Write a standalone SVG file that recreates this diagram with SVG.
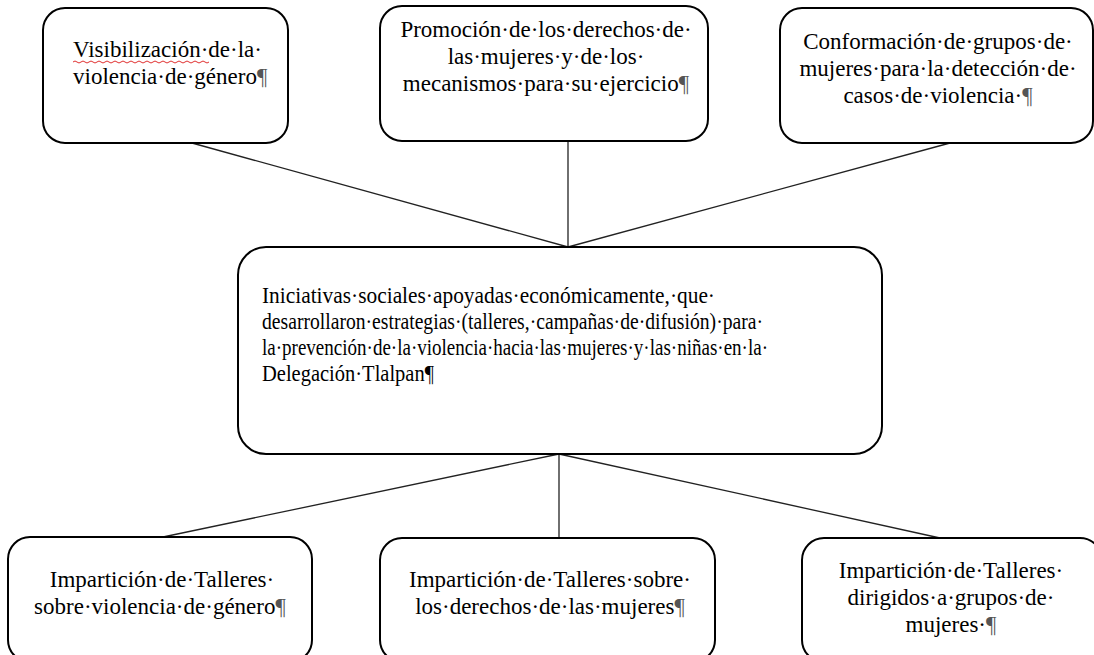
<svg xmlns="http://www.w3.org/2000/svg" width="1094" height="655" viewBox="0 0 1094 655">
<style>
.box{fill:#fff;stroke:#000;stroke-width:2}
text{font-family:'Liberation Serif','DejaVu Serif',serif;font-size:23px;fill:#000}
.c{text-anchor:middle}
.p{fill:#555}
.conn line{stroke:#222;stroke-width:1.3}
</style>
<rect width="1094" height="655" fill="#fff"/>
<g id="connectors" class="conn">
<line x1="192" y1="143" x2="568" y2="247"/>
<line x1="568" y1="141" x2="568" y2="247"/>
<line x1="950" y1="143" x2="568" y2="247"/>
<line x1="559" y1="454" x2="163" y2="537"/>
<line x1="559" y1="454" x2="559" y2="538"/>
<line x1="559" y1="454" x2="940" y2="538"/>
</g>
<g id="n1">
<rect class="box" x="43" y="8" width="245" height="135" rx="22"/>
<text x="73" y="57">Visibilización·de·la·</text>
<text x="73" y="84">violencia·de·género<tspan class="p">¶</tspan></text>
<path d="M73,62 q2,-2 4,0 t4,0 t4,0 t4,0 t4,0 t4,0 t4,0 t4,0 t4,0 t4,0 t4,0 t4,0 t4,0 t4,0 t4,0 t4,0 t4,0 t4,0 t4,0 t4,0 t4,0 t4,0 t4,0 t4,0 t4,0 t4,0 t4,0 t4,0 t4,0 t4,0 t4,0 t4,0 t4,0 t4,0" fill="none" stroke="#e03030" stroke-width="1"/>
</g>
<g id="n2">
<rect class="box" x="380" y="6" width="328" height="135" rx="22"/>
<text class="c" x="546" y="37">Promoción·de·los·derechos·de·</text>
<text class="c" x="546" y="64">las·mujeres·y·de·los·</text>
<text class="c" x="546" y="91">mecanismos·para·su·ejercicio<tspan class="p">¶</tspan></text>
</g>
<g id="n3">
<rect class="box" x="780" y="8" width="313" height="135" rx="22"/>
<text class="c" x="938" y="49">Conformación·de·grupos·de·</text>
<text class="c" x="938" y="76">mujeres·para·la·detección·de·</text>
<text class="c" x="938" y="103">casos·de·violencia·<tspan class="p">¶</tspan></text>
</g>
<g id="n4">
<rect class="box" x="238" y="247" width="644" height="207" rx="28"/>
<text x="262" y="303" textLength="453" lengthAdjust="spacingAndGlyphs">Iniciativas·sociales·apoyadas·económicamente,·que·</text>
<text x="262" y="329" textLength="501" lengthAdjust="spacingAndGlyphs">desarrollaron·estrategias·(talleres,·campañas·de·difusión)·para·</text>
<text x="262" y="355" textLength="506" lengthAdjust="spacingAndGlyphs">la·prevención·de·la·violencia·hacia·las·mujeres·y·las·niñas·en·la·</text>
<text x="262" y="381" textLength="172" lengthAdjust="spacingAndGlyphs">Delegación·Tlalpan¶</text>
</g>
<g id="n5">
<rect class="box" x="8" y="537" width="304" height="125" rx="22"/>
<text class="c" x="162" y="587">Impartición·de·Talleres·</text>
<text class="c" x="160" y="614">sobre·violencia·de·género<tspan class="p">¶</tspan></text>
</g>
<g id="n6">
<rect class="box" x="380" y="538" width="335" height="124" rx="22"/>
<text class="c" x="550" y="587">Impartición·de·Talleres·sobre·</text>
<text class="c" x="550" y="614">los·derechos·de·las·mujeres<tspan class="p">¶</tspan></text>
</g>
<g id="n7">
<rect class="box" x="802" y="538" width="300" height="124" rx="22"/>
<text class="c" x="951" y="578">Impartición·de·Talleres·</text>
<text class="c" x="951" y="605">dirigidos·a·grupos·de·</text>
<text class="c" x="951" y="632">mujeres·<tspan class="p">¶</tspan></text>
</g>
</svg>
